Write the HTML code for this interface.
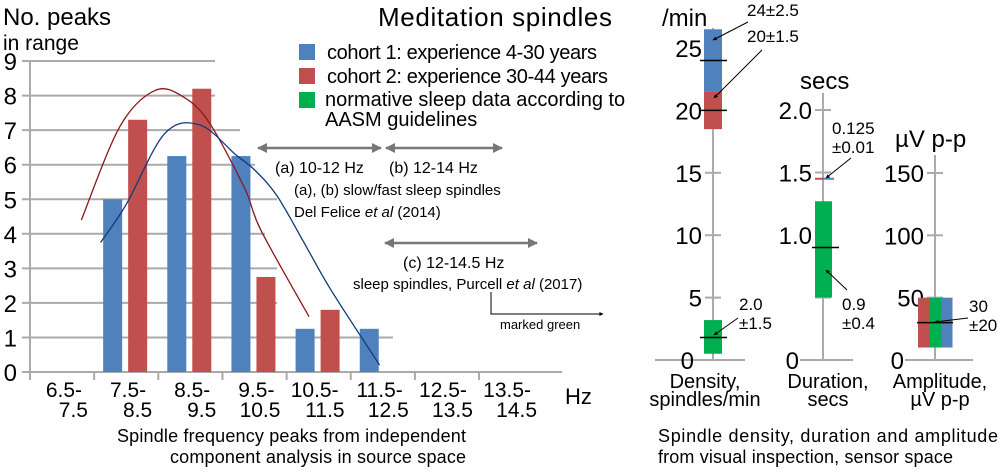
<!DOCTYPE html>
<html><head><meta charset="utf-8"><style>
html,body{margin:0;padding:0;background:#fff}
svg{display:block;font-family:"Liberation Sans",sans-serif}
</style></head><body>
<svg id="fig" width="1000" height="472" viewBox="0 0 1000 472">
<defs>
<marker id="ag" viewBox="0 0 10 10" refX="9" refY="5" markerWidth="5" markerHeight="4" orient="auto-start-reverse"><path d="M0,0L10,5L0,10z" fill="#777"/></marker>
<marker id="ak" viewBox="0 0 10 10" refX="9" refY="5" markerWidth="6" markerHeight="4" orient="auto"><path d="M0,0L10,5L0,10z" fill="#000"/></marker>
</defs>
<g id="main"></g>
<g id="right"></g>
<text x="3" y="25" font-size="24">No. peaks</text>
<text x="3" y="50" font-size="21">in range</text>
<text x="378" y="26" font-size="26" textLength="234">Meditation spindles</text>
<g font-size="20">
<rect x="299" y="44" width="16" height="16" fill="#4f81bd"/><text x="327" y="59" textLength="270">cohort 1: experience 4-30 years</text>
<rect x="299" y="68" width="16" height="16" fill="#c0504d"/><text x="327" y="83" textLength="281">cohort 2: experience 30-44 years</text>
<rect x="299" y="92" width="16" height="16" fill="#00b050"/><text x="325" y="106">normative sleep data according to</text>
<text x="325" y="126">AASM guidelines</text>
</g>
<g font-size="15">
<line x1="258" y1="148" x2="381" y2="148" stroke="#777" stroke-width="2.5" marker-start="url(#ag)" marker-end="url(#ag)"/>
<line x1="386" y1="148" x2="502" y2="148" stroke="#777" stroke-width="2.5" marker-start="url(#ag)" marker-end="url(#ag)"/>
<text x="275" y="173" font-size="16">(a) 10-12 Hz</text>
<text x="389" y="173" font-size="16">(b) 12-14 Hz</text>
<text x="294" y="195">(a), (b) slow/fast sleep spindles</text>
<text x="294" y="217">Del Felice <tspan font-style="italic">et al</tspan> (2014)</text>
<line x1="385" y1="243" x2="537" y2="243" stroke="#777" stroke-width="2.5" marker-start="url(#ag)" marker-end="url(#ag)"/>
<text x="403" y="268" font-size="16">(c) 12-14.5 Hz</text>
<text x="353" y="289">sleep spindles, Purcell <tspan font-style="italic">et al</tspan> (2017)</text>
<polyline points="491,292 491,314 603,314" fill="none" stroke="#000" stroke-width="1" marker-end="url(#ak)"/>
<text x="500" y="329" font-size="13">marked green</text>
</g>
<text x="565" y="404" font-size="22">Hz</text>
<text x="117" y="442" font-size="18" textLength="349">Spindle frequency peaks from independent</text>
<text x="170" y="463" font-size="18" textLength="296">component analysis in source space</text>
<text x="658" y="442" font-size="18" textLength="340">Spindle density, duration and amplitude</text>
<text x="658" y="463" font-size="18" textLength="295">from visual inspection, sensor space</text>
</svg>
<script>
const NS='http://www.w3.org/2000/svg';
const categories=['6.5-|7.5','7.5-|8.5','8.5-|9.5','9.5-|10.5','10.5-|11.5','11.5-|12.5','12.5-|13.5','13.5-|14.5'];
const cohort1=[0,5,6.25,6.25,1.25,1.25,0,0];
const cohort2=[0,7.3,8.2,2.75,1.8,0,0,0];
const yTicks=[0,1,2,3,4,5,6,7,8,9];
const gridEnds=[562,393,277,277,265,277,255,240,215,215];
const curve2X=[7.3,7.9,8.45,8.9,9.3,9.85,10.1,10.85];
const curve2Y=[4.4,7.1,8.15,7.95,7.2,5.3,4.1,1.6];
const curve1X=[7.6,8.0,8.6,9.15,9.7,10.0,10.35,10.8,11.2,11.95];
const curve1Y=[3.75,4.85,6.9,7.15,6.3,5.85,5.1,3.65,2.35,0.2];
const densBars=[[21.5,26.5,'#4f81bd'],[18.5,21.5,'#c0504d'],[0.5,3.2,'#00b050']];
const densMeans=[24,20,1.8];
const durBars=[[0.5,1.27,'#00b050']];
const durMeans=[0.9];
const ampBars=[[10,50,'#c0504d'],[10,50,'#00b050'],[10,50,'#4f81bd']];
const ampMeans=[30];
function el(t,a,p){const e=document.createElementNS(NS,t);for(const k in a)e.setAttribute(k,a[k]);p.appendChild(e);return e;}
const main=document.getElementById('main');
const x0=30,cw=64.15,yb=372,yu=34.55;
function yS(v){return yb-v*yu;}
function xC(i){return x0+i*cw;}
function xHz(f){return x0+(f-6.5)*cw;}
yTicks.forEach((t,i)=>{
 const g=el('line',{x1:22,x2:gridEnds[i],y1:yS(t),y2:yS(t),stroke:'#aaa','stroke-width':2},main);
 
 
 const tx=el('text',{x:17,y:yS(t)+9,'font-size':24,'text-anchor':'end'},main);tx.textContent=t;
 
 
});
el('line',{x1:x0,x2:x0,y1:yS(9),y2:yb+8,stroke:'#aaa','stroke-width':2},main);
categories.forEach((c,i)=>{
 const tk=el('line',{x1:xC(i),x2:xC(i),y1:yb,y2:yb+8,stroke:'#aaa','stroke-width':2},main);
 
 
 const p=c.split('|');
 const t1=el('text',{x:xC(i)+52,y:yb+25,'font-size':21,'text-anchor':'end'},main);t1.textContent=p[0];
 
 
 const t2=el('text',{x:xC(i)+58,y:yb+45,'font-size':21,'text-anchor':'end'},main);t2.textContent=p[1];
 
 
 if(cohort1[i]>0){const b=el('rect',{x:xC(i)+9,y:yS(cohort1[i]),width:19,height:cohort1[i]*yu,fill:'#4f81bd'},main);
  
  }
 if(cohort2[i]>0){const b=el('rect',{x:xC(i)+34,y:yS(cohort2[i]),width:19,height:cohort2[i]*yu,fill:'#c0504d'},main);
  
  }
});
function smooth(xs,ys){const P=xs.map((x,i)=>[xHz(x),yS(ys[i])]);let d='M'+P[0][0]+','+P[0][1];for(let i=0;i<P.length-1;i++){const p0=P[i-1]||P[i],p1=P[i],p2=P[i+1],p3=P[i+2]||p2;d+=' C'+(p1[0]+(p2[0]-p0[0])/6)+','+(p1[1]+(p2[1]-p0[1])/6)+' '+(p2[0]-(p3[0]-p1[0])/6)+','+(p2[1]-(p3[1]-p1[1])/6)+' '+p2[0]+','+p2[1];}return d;}
const c2=el('path',{d:smooth(curve2X,curve2Y),fill:'none',stroke:'#8b1a1a','stroke-width':1.3},main);


const c1=el('path',{d:smooth(curve1X,curve1Y),fill:'none',stroke:'#123a7a','stroke-width':1.3},main);



const R=document.getElementById('right');
const rb=360;
const panels=[
 {name:'density',ax:713,unit:12.48,top:28,ticks:[0,5,10,15,20,25],fmt:v=>v,base:[655,745],title:['Density,','spindles/min'],tx:705,unitLbl:'/min',ux:662,uy:26},
 {name:'duration',ax:823,unit:125,top:93,ticks:[0,0.5,1,1.5,2],fmt:v=>v===0.5?'':v.toFixed(1),base:[800,853],title:['Duration,','secs'],tx:828,unitLbl:'secs',ux:800,uy:89},
 {name:'amplitude',ax:935,unit:1.247,top:155,ticks:[0,50,100,150],fmt:v=>v,base:[905,973],title:['Amplitude,','\u00b5V p-p'],tx:940,unitLbl:'\u00b5V p-p',ux:895,uy:147}
];
panels.forEach(p=>{
 const y=v=>rb-v*p.unit;
 el('line',{x1:p.ax,x2:p.ax,y1:p.top,y2:rb,stroke:'#aaa','stroke-width':2},R);
 el('line',{x1:p.base[0],x2:p.base[1],y1:rb,y2:rb,stroke:'#aaa','stroke-width':2},R);
 p.ticks.forEach(t=>{
  const tk=el('line',{x1:p.ax-8,x2:p.ax+8,y1:y(t),y2:y(t),stroke:'#aaa','stroke-width':2},R);
  
  
  if(t===0)return;
  const tx=el('text',{x:p.ax-11,y:y(t)+9,'font-size':24,'text-anchor':'end'},R);tx.textContent=p.fmt(t);
  
  
 });
 const t0=el('text',{x:p.name==='density'?p.ax-19:p.base[0]-1,y:rb+9,'font-size':24,'text-anchor':'end'},R);t0.textContent='0';
 
 
 const a=el('text',{x:p.tx,y:388,'font-size':20,'text-anchor':'middle'},R);a.textContent=p.title[0];
 
 
 const b=el('text',{x:p.tx,y:406,'font-size':20,'text-anchor':'middle'},R);b.textContent=p.title[1];
 
 
 const u=el('text',{x:p.ux,y:p.uy,'font-size':24},R);u.textContent=p.unitLbl;
 
 
 p.y=y;
});
const D=panels[0],U=panels[1],A=panels[2];
densBars.forEach(b=>{const r=el('rect',{x:704,y:D.y(b[1]),width:18,height:(b[1]-b[0])*D.unit,fill:b[2]},R);
 
 });
densMeans.forEach(m=>{const l=el('line',{x1:700,x2:727,y1:D.y(m),y2:D.y(m),stroke:'#000','stroke-width':1.5},R);
 
 });
durBars.forEach(b=>{const r=el('rect',{x:815,y:U.y(b[1]),width:17,height:(b[1]-b[0])*U.unit,fill:b[2]},R);
 
 });
el('line',{x1:815,x2:823,y1:U.y(1.45),y2:U.y(1.45),stroke:'#c0504d','stroke-width':2},R);
el('line',{x1:823,x2:834,y1:U.y(1.45),y2:U.y(1.45),stroke:'#4f81bd','stroke-width':2},R);
durMeans.forEach(m=>{const l=el('line',{x1:812,x2:839,y1:U.y(m),y2:U.y(m),stroke:'#000','stroke-width':1.5},R);
 
 });
ampBars.forEach((b,i)=>{const r=el('rect',{x:918+i*11.5,y:A.y(b[1]),width:11.5,height:(b[1]-b[0])*A.unit,fill:b[2]},R);
 
 });
ampMeans.forEach(m=>{const l=el('line',{x1:917,x2:953,y1:A.y(m),y2:A.y(m),stroke:'#000','stroke-width':1.5},R);
 
 });
const notes=[[747,16,['24±2.5']],[747,42,['20±1.5']],[739,310,['2.0','±1.5']],[832,134,['0.125','±0.01']],[842,310,['0.9','±0.4']],[969,312,['30','±20']]];
notes.forEach(n=>{n[2].forEach((s,i)=>{const t=el('text',{x:n[0],y:n[1]+i*19,'font-size':17},R);t.textContent=s;
 
 });});
const arrows=[[748,22,713,40],[762,50,714,98],[738,318,714,335],[851,158,826,178],[847,290,826,270],[968,318,935,322]];
arrows.forEach(a=>{const l=el('line',{x1:a[0],y1:a[1],x2:a[2],y2:a[3],stroke:'#000','stroke-width':1,'marker-end':'url(#ak)'},R);
 
 });
</script>
</body></html>
